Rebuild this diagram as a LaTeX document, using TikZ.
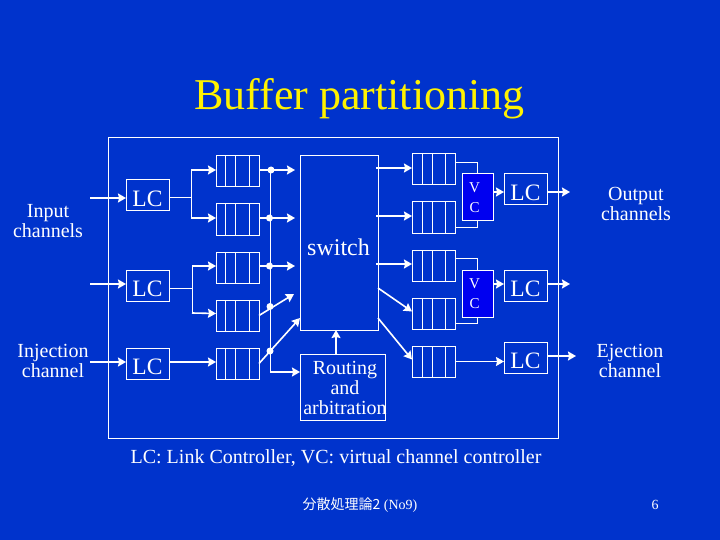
\documentclass[tikz,border=0pt]{standalone}
\usepackage{fontspec}
\setmainfont{Liberation Serif}
\newfontfamily\cjkfont{Noto Sans CJK JP}
\usetikzlibrary{arrows.meta,calc}
\definecolor{slidebg}{HTML}{0033CC}
\definecolor{vcblue}{HTML}{0000F0}
\begin{document}
\begin{tikzpicture}[x=1pt, y=-1pt,
    box/.style={draw=white, line width=1pt, inner sep=0pt, outer sep=0pt, text=white},
    lc/.style={box, minimum width=43pt, minimum height=31pt, text height=21.6pt, text depth=0pt, font=\fontsize{23.5}{24}\selectfont},
    buf/.style={box, minimum width=43pt, minimum height=31pt},
    vc/.style={box, fill=vcblue, minimum width=31pt, minimum height=47pt, align=center, font=\fontsize{15}{20}\selectfont},
    lbl/.style={text=white, align=center, inner sep=0pt, font=\fontsize{20}{20}\selectfont},
    arr/.style={-{Stealth[length=8pt,width=9pt,inset=1pt]}, white, line width=1.6pt},
    wire/.style={white, line width=1pt},
    dot/.style={circle, fill=white, inner sep=0pt, minimum size=7pt}
]
\fill[slidebg] (0,0) rectangle (720,540);
\useasboundingbox (0,0) rectangle (720,540);
\node[box, minimum width=450pt, minimum height=300pt] (frame) at (333,288) {};

% title and outside labels
\node[text=yellow, inner sep=0pt, font=\fontsize{44}{44}\selectfont] (title) at (359.5,99) {Buffer partitioning};
\node[lbl] (inlbl) at (48,221) {Input\\channels};
\node[lbl] (injlbl) at (53,361) {Injection\\channel};
\node[lbl] (outlbl) at (636,204) {Output\\channels};
\node[lbl] (ejlbl) at (630,361) {Ejection\\channel};
\node[lbl] (note) at (336,458) {LC: Link Controller, VC: virtual channel controller};
\node[text=white, inner sep=0pt, font=\fontsize{14}{16}\selectfont] (foot) at (360,505) {{\cjkfont 分散処理論2} (No9)};
\node[text=white, inner sep=0pt, font=\fontsize{14}{16}\selectfont] (page) at (655,505) {6};

% link controllers
\node[lc] (lca) at (147.5,195.5) {LC};
\node[lc] (lcb) at (147.5,285.5) {LC};
\node[lc] (lcc) at (147.5,363.5) {LC};
\node[lc] (lcd) at (525.5,189.5) {LC};
\node[lc] (lce) at (525.5,285.5) {LC};
\node[lc] (lcf) at (525.5,357.5) {LC};

% buffers, left and right of the switch
\node[buf] (bufa) at (237.5,171.5) {};
\node[buf] (bufb) at (237.5,219.5) {};
\node[buf] (bufc) at (237.5,267.5) {};
\node[buf] (bufd) at (237.5,315.5) {};
\node[buf] (bufe) at (237.5,363.5) {};
\node[buf] (bufp) at (433.5,169.5) {};
\node[buf] (bufq) at (433.5,217.5) {};
\node[buf] (bufr) at (433.5,265.5) {};
\node[buf] (bufs) at (433.5,313.5) {};
\node[buf] (buft) at (433.5,361.5) {};
\foreach \b in {bufa,bufb,bufc,bufd,bufe}
    \foreach \d in {9,19,33}
        \draw[wire] ($(\b.north west)+(\d,0)$) -- ($(\b.south west)+(\d,0)$);
\foreach \b in {bufp,bufq,bufr,bufs,buft}
    \foreach \d in {10,20,33}
        \draw[wire] ($(\b.north west)+(\d,0)$) -- ($(\b.south west)+(\d,0)$);

% switch and arbiter
\node[box, minimum width=78pt, minimum height=174pt] (sw) at (339,243) {};
\node[lbl, font=\fontsize{24}{24}\selectfont] (swlbl) at (338.5,247) {switch};
\node[box, minimum width=85pt, minimum height=66pt] (route) at (342.5,387) {};
\node[lbl] (routelbl) at (345,388) {Routing\\and\\arbitration};
\node[vc] (vca) at (477.5,197.5) {V\hspace*{6pt}\\C\hspace*{6pt}};
\node[vc] (vcb) at (477.5,293.5) {V\hspace*{6pt}\\C\hspace*{6pt}};

% free ends of the arrows
\coordinate (ina) at (90,198);
\coordinate (inb) at (90,284);
\coordinate (inc) at (90,362);
\coordinate (outa) at (570,192);
\coordinate (outb) at (570,284);
\coordinate (outc) at (576,356);
\coordinate (sa) at (295,170);
\coordinate (sb) at (295,218);
\coordinate (sc) at (295,266);
\coordinate (sd) at (294,294);
\coordinate (se) at (300,318);
\coordinate (sf) at (300,372);
\coordinate (ta) at (376,168);
\coordinate (tb) at (376,216);
\coordinate (tc) at (376,264);
\coordinate (td) at (378,288);
\coordinate (te) at (378,318);
\coordinate (joina) at (191,198);
\coordinate (joinb) at (192,288);

% into and out of the frame
\draw[arr] (ina) -- (lca.west |- ina);
\draw[arr] (inb) -- (lcb.west |- inb);
\draw[arr] (inc) -- (lcc.west |- inc);
\draw[arr] (lcd.east |- outa) -- (outa);
\draw[arr] (lce.east |- outb) -- (outb);
\draw[arr] (lcf.east |- outc) -- (outc);

% link controller to buffers
\draw[wire] (lca.east |- joina) -- (joina);
\draw[wire] (joina |- sa) -- (joina |- sb);
\draw[arr] (joina |- sa) -- (bufa.west |- sa);
\draw[arr] (joina |- sb) -- (bufb.west |- sb);
\draw[wire] (lcb.east |- joinb) -- (joinb);
\draw[wire] (joinb |- sc) -- (192,313);
\draw[arr] (joinb |- sc) -- (bufc.west |- sc);
\draw[arr] (192,313) -- ($(bufd.west)+(0,-2)$);
\draw[arr] (lcc.east |- inc) -- (bufe.west |- inc);

% buffers to switch
\draw[arr] (bufa.east |- sa) -- (sa);
\draw[arr] (bufb.east |- sb) -- (sb);
\draw[arr] (bufc.east |- sc) -- (sc);
\draw[arr] (bufd.east) -- (sd);
\draw[arr] (bufe.east) -- (se);
\node[dot] (dota) at (271,170) {};
\node[dot] (dotb) at (269.5,218) {};
\node[dot] (dotc) at (269.5,266) {};
\node[dot] (dotd) at (270,306.5) {};
\node[dot] (dote) at (270,351) {};
\draw[wire] (dota.center) -- (270,170) -- (270,372);
\draw[arr] (270,372) -- (route.west |- sf);
\draw[arr] (route.north -| 336,354) -- (sw.south -| 336,330);

% switch to buffers
\draw[arr] (ta) -- (bufp.west |- ta);
\draw[arr] (tb) -- (bufq.west |- tb);
\draw[arr] (tc) -- (bufr.west |- tc);
\draw[arr] (td) -- ($(bufs.west)+(0,-2)$);
\draw[arr] (te) -- ($(buft.west)+(0,-2)$);

% buffers to virtual channel controllers
\draw[wire] ($(bufp.east)+(0,-7)$) -| (vca.north);
\draw[wire] ($(bufq.east)+(0,10)$) -| (vca.south);
\draw[wire] ($(bufr.east)+(0,-7)$) -| (vcb.north);
\draw[wire] ($(bufs.east)+(0,10)$) -| (vcb.south);
\draw[arr] (vca.east |- outa) -- (lcd.west |- outa);
\draw[arr] (vcb.east |- outb) -- (lce.west |- outb);
\draw[arr] (buft.east) -- (lcf.west |- buft);
\end{tikzpicture}
\end{document}
